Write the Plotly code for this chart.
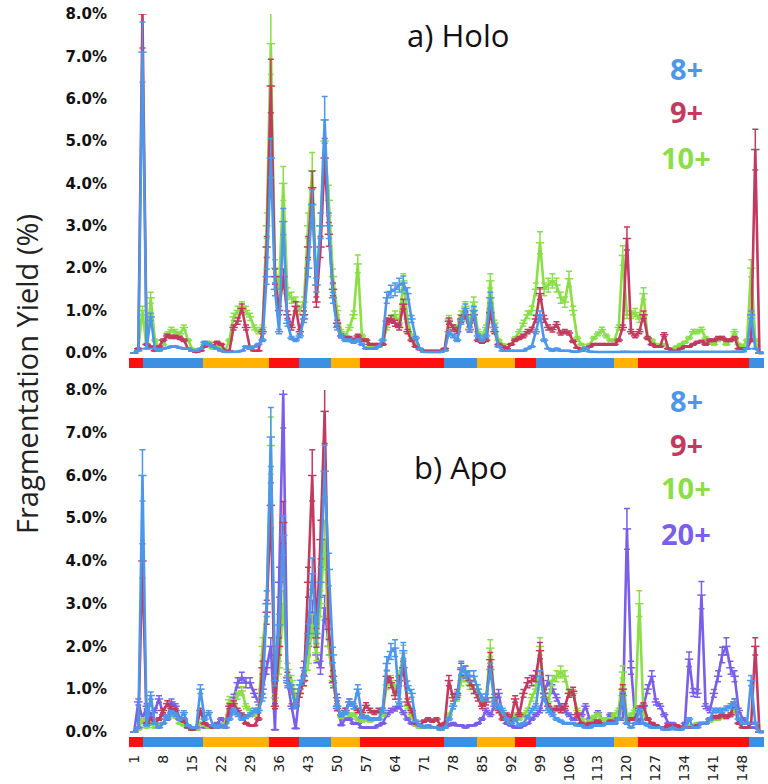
import plotly.graph_objects as go

residues = list(range(1, 154))
tick_residues = list(range(1, 149, 7))
y_ticks = [0, 1, 2, 3, 4, 5, 6, 7, 8]
y_tick_text = ["0.0%", "1.0%", "2.0%", "3.0%", "4.0%", "5.0%", "6.0%", "7.0%", "8.0%"]

# secondary-structure segments (residue boundaries) and colours
ss_bounds = [-0.25, 3.1, 17.7, 33.6, 40.7, 48.6, 55.6, 75.7, 83.8, 92.9, 98.0, 116.9, 122.6, 149.4, 153.1]
ss_kinds = ["r", "b", "o", "r", "b", "o", "r", "b", "o", "r", "b", "o", "r", "b"]

holo_8 = [0.0, 0.05, 7.1, 0.1, 0.85, 0.1, 0.05, 0.1, 0.12, 0.15,
          0.15, 0.12, 0.1, 0.1, 0.05, 0.05, 0.1, 0.25, 0.2, 0.15,
          0.1, 0.05, 0.02, 0.02, 0.02, 0.03, 0.05, 0.15, 0.1, 0.15,
          0.2, 0.3, 1.8, 4.6, 1.5, 0.5, 3.1, 0.7, 0.35, 0.3,
          0.4, 0.8, 2.0, 3.5, 1.6, 3.0, 5.5, 3.0, 1.3, 0.6,
          0.4, 0.3, 0.3, 0.25, 0.3, 0.2, 0.1, 0.1, 0.1, 0.15,
          0.3, 1.3, 1.45, 1.5, 1.6, 1.65, 1.4, 0.8, 0.35, 0.1,
          0.02, 0.02, 0.02, 0.02, 0.02, 0.05, 0.5, 0.4, 0.3, 0.75,
          1.05, 0.55, 1.0, 0.4, 0.3, 0.4, 1.3, 0.6, 0.15, 0.05,
          0.05, 0.05, 0.05, 0.05, 0.05, 0.1, 0.15, 0.5, 0.9, 0.3,
          0.1, 0.05, 0.1, 0.05, 0.05, 0.05, 0.03, 0.03, 0.05, 0.12,
          0.03, 0.02, 0.02, 0.02, 0.02, 0.02, 0.02, 0.02, 0.03, 0.03,
          0.02, 0.02, 0.02, 0.02, 0.02, 0.02, 0.02, 0.02, 0.02, 0.02,
          0.02, 0.02, 0.02, 0.02, 0.02, 0.02, 0.02, 0.02, 0.02, 0.02,
          0.02, 0.02, 0.02, 0.02, 0.02, 0.03, 0.03, 0.03, 0.1, 0.9,
          0.1, 0.0, 0.0]

holo_9 = [0.0, 0.1, 8.0, 0.2, 0.15, 0.05, 0.15, 0.3, 0.4, 0.38,
          0.38, 0.35, 0.3, 0.1, 0.05, 0.02, 0.05, 0.15, 0.2, 0.15,
          0.25, 0.2, 0.05, 0.05, 0.6, 0.75, 1.05, 0.6, 0.1, 0.05,
          0.05, 0.5, 2.5, 6.3, 1.8, 1.0, 1.8, 0.9, 0.6, 1.1,
          0.5, 0.9, 2.5, 3.9, 1.2, 2.5, 4.6, 2.8, 1.5, 0.7,
          0.4, 0.35, 0.35, 0.3, 0.4, 0.3, 0.3, 0.2, 0.2, 0.2,
          0.2, 0.75, 0.8, 0.7, 0.6, 1.15, 0.5, 0.3, 0.15, 0.08,
          0.05, 0.05, 0.05, 0.05, 0.05, 0.1, 0.75, 0.6, 0.5, 0.8,
          0.9, 0.55, 0.9, 0.3, 0.25, 0.3, 0.95, 0.5, 0.2, 0.15,
          0.1, 0.2, 0.3, 0.35, 0.4, 0.5, 0.55, 0.8, 1.4, 0.8,
          0.6, 0.55, 0.67, 0.47, 0.5, 0.47, 0.27, 0.12, 0.05, 0.1,
          0.15, 0.2, 0.2, 0.2, 0.2, 0.2, 0.2, 0.3, 0.6, 2.7,
          0.5, 0.4, 0.5, 0.9, 0.35, 0.2, 0.15, 0.15, 0.43, 0.1,
          0.05, 0.05, 0.1, 0.15, 0.15, 0.2, 0.25, 0.27, 0.2, 0.3,
          0.3, 0.35, 0.35, 0.3, 0.3, 0.35, 0.1, 0.1, 0.1, 0.3,
          4.8, 0.0, 0.0]

holo_10 = [0.0, 0.1, 1.0, 0.1, 1.3, 0.3, 0.1, 0.2, 0.45, 0.55,
           0.5, 0.45, 0.6, 0.3, 0.1, 0.05, 0.05, 0.2, 0.25, 0.1,
           0.15, 0.1, 0.05, 0.3, 0.85, 1.0, 1.1, 1.0, 0.85, 0.6,
           0.5, 0.6, 3.0, 7.3, 2.0, 1.5, 4.0, 1.4, 1.3, 1.2,
           1.0, 1.2, 3.0, 4.3, 1.6, 3.0, 5.0, 3.6, 1.8, 1.0,
           0.5, 0.4, 0.6, 0.9, 2.1, 0.4, 0.3, 0.15, 0.1, 0.15,
           0.2, 0.6, 0.8, 0.9, 0.7, 1.7, 0.8, 0.4, 0.2, 0.1,
           0.03, 0.02, 0.02, 0.02, 0.02, 0.1, 0.8, 0.6, 0.6, 0.9,
           1.1, 0.7, 1.2, 0.5, 0.4, 0.6, 1.7, 0.7, 0.3, 0.2,
           0.1, 0.2, 0.35, 0.5, 0.7, 0.9, 1.0, 1.5, 2.6, 1.5,
           1.6, 1.7, 1.6, 1.3, 1.2, 1.75, 1.0, 0.35, 0.2, 0.1,
           0.2, 0.35, 0.45, 0.55, 0.4, 0.3, 0.3, 0.6, 2.3, 0.9,
           0.9, 0.95, 0.8, 1.4, 0.35, 0.3, 0.2, 0.15, 0.2, 0.1,
           0.1, 0.15, 0.2, 0.25, 0.35, 0.5, 0.5, 0.55, 0.35, 0.25,
           0.2, 0.3, 0.35, 0.2, 0.3, 0.5, 0.2, 0.15, 0.3, 2.0,
           0.3, 0.0, 0.0]

apo_8 = [0.0, 0.1, 6.0, 0.15, 0.85, 0.2, 0.1, 0.2, 0.35, 0.45,
         0.4, 0.3, 0.45, 0.15, 0.1, 0.1, 1.0, 0.3, 0.45, 0.15,
         0.1, 0.15, 0.1, 0.3, 0.5, 0.4, 0.3, 0.35, 0.4, 0.5,
         0.5, 0.8, 3.0, 6.9, 1.2, 2.5, 4.6, 1.15, 1.0, 0.6,
         1.1, 1.3, 2.3, 3.7, 2.3, 3.5, 6.1, 3.8, 1.8, 0.6,
         0.4, 0.45, 0.7, 0.6, 1.0, 0.35, 0.35, 0.3, 0.3, 0.3,
         0.5, 1.6, 1.88, 1.96, 0.7, 1.9, 1.08, 0.9, 0.25, 0.15,
         0.1, 0.15, 0.1, 0.1, 0.05, 0.1, 0.3, 0.6, 0.85, 1.5,
         1.4, 1.3, 1.3, 1.0, 0.8, 0.8, 1.46, 0.7, 0.6, 0.5,
         0.3, 0.2, 0.3, 0.15, 0.2, 0.35, 0.5, 0.6, 1.3, 0.8,
         0.5, 0.4, 0.3, 0.25, 0.2, 0.2, 0.2, 0.15, 0.15, 0.1,
         0.1, 0.15, 0.15, 0.15, 0.2, 0.2, 0.2, 0.3, 0.85, 0.2,
         0.1, 0.2, 0.5, 0.2, 0.15, 0.1, 0.1, 0.1, 0.05, 0.05,
         0.1, 0.05, 0.05, 0.1, 0.3, 0.1, 0.1, 0.2, 0.2, 0.3,
         0.5, 0.5, 0.5, 0.55, 0.6, 0.7, 0.3, 0.2, 0.2, 1.2,
         0.2, 0.0, 0.0]

apo_9 = [0.0, 0.1, 4.0, 0.2, 0.3, 0.2, 0.3, 0.5, 0.66, 0.55,
         0.5, 0.3, 0.25, 0.1, 0.05, 0.1, 0.5, 0.2, 0.15, 0.1,
         0.1, 0.15, 0.1, 0.6, 0.66, 0.5, 0.4, 0.2, 0.15, 0.15,
         0.3, 1.5, 2.8, 5.3, 0.6, 2.0, 4.9, 1.27, 1.0, 0.62,
         0.9, 1.2, 3.5, 6.0, 2.2, 4.5, 7.5, 2.4, 1.3, 0.55,
         0.4, 0.5, 0.7, 0.6, 0.5, 0.45, 0.62, 0.5, 0.45, 0.5,
         0.5, 1.3, 1.15, 0.85, 1.2, 1.5, 0.7, 0.5, 0.2, 0.15,
         0.25, 0.3, 0.25, 0.3, 0.15, 0.2, 1.2, 0.8, 0.9, 1.46,
         1.4, 1.2, 1.0, 0.8, 0.6, 0.7, 1.69, 0.8, 0.5, 0.3,
         0.4, 0.3, 0.77, 0.4, 0.9, 1.15, 1.2, 1.3, 1.9, 0.9,
         0.6, 0.5, 0.55, 0.5, 0.6, 0.9, 0.95, 0.4, 0.2, 0.15,
         0.2, 0.2, 0.25, 0.2, 0.2, 0.25, 0.2, 0.3, 1.0, 0.2,
         0.3, 0.3, 0.55, 0.62, 0.3, 0.2, 0.15, 0.1, 0.1, 0.15,
         0.1, 0.15, 0.1, 0.1, 0.1, 0.1, 0.15, 0.2, 0.2, 0.3,
         0.35, 0.35, 0.4, 0.35, 0.4, 0.7, 0.2, 0.1, 0.1, 0.2,
         2.0, 0.0, 0.0]

apo_10 = [0.0, 0.05, 0.3, 0.1, 0.2, 0.1, 0.15, 0.2, 0.35, 0.4,
          0.35, 0.2, 0.15, 0.1, 0.05, 0.05, 0.2, 0.15, 0.1, 0.1,
          0.1, 0.15, 0.2, 0.75, 0.6, 0.85, 0.96, 0.6, 0.5, 0.4,
          0.5, 2.0, 3.0, 6.7, 0.8, 1.5, 3.0, 1.46, 1.2, 0.8,
          1.0, 1.2, 1.6, 2.5, 1.85, 3.0, 4.5, 2.0, 1.2, 0.6,
          0.35, 0.5, 0.4, 0.4, 0.3, 0.25, 0.3, 0.25, 0.3, 0.3,
          0.4, 1.1, 1.2, 1.0, 1.3, 1.84, 0.6, 0.4, 0.15, 0.1,
          0.1, 0.1, 0.1, 0.1, 0.05, 0.1, 0.4, 0.6, 0.8, 1.2,
          1.3, 1.1, 1.0, 0.9, 0.7, 0.8, 1.96, 0.8, 0.6, 0.4,
          0.3, 0.2, 0.4, 0.3, 0.4, 0.5, 0.8, 1.0, 2.0, 0.9,
          0.7, 1.2, 1.3, 1.4, 1.3, 0.9, 0.9, 0.5, 0.3, 0.2,
          0.25, 0.35, 0.4, 0.3, 0.3, 0.3, 0.4, 0.5, 1.4, 0.3,
          0.4, 0.5, 3.0, 0.4, 0.3, 0.2, 0.15, 0.1, 0.1, 0.1,
          0.1, 0.1, 0.1, 0.1, 0.15, 0.15, 0.2, 0.2, 0.2, 0.25,
          0.3, 0.3, 0.35, 0.35, 0.4, 0.5, 0.2, 0.1, 0.1, 0.2,
          0.2, 0.0, 0.0]

apo_20 = [0.0, 0.7, 0.3, 0.6, 0.4, 0.5, 0.77, 0.4, 0.3, 0.7,
          0.6, 0.3, 0.3, 0.1, 0.05, 0.05, 0.2, 0.1, 0.1, 0.15,
          0.2, 0.3, 0.2, 0.4, 0.8, 1.15, 1.27, 1.15, 1.15, 0.9,
          0.7, 1.0, 1.5, 2.0, 0.05, 3.5, 7.9, 1.2, 0.6, 0.08,
          1.0, 1.5, 2.0, 2.8, 1.8, 1.5, 2.9, 2.0, 1.15, 0.8,
          0.16, 0.3, 0.3, 0.2, 0.2, 0.1, 0.1, 0.1, 0.1, 0.15,
          0.2, 0.4, 0.5, 0.54, 0.6, 0.45, 0.3, 0.2, 0.15, 0.1,
          0.1, 0.1, 0.1, 0.1, 0.1, 0.1, 0.15, 0.2, 0.15, 0.15,
          0.1, 0.15, 0.15, 0.2, 0.3, 0.5, 0.4, 0.6, 0.9, 0.4,
          0.2, 0.15, 0.1, 0.1, 0.15, 0.2, 0.3, 0.4, 0.5, 0.9,
          1.2, 1.0, 0.8, 0.6, 0.5, 0.4, 0.3, 0.3, 0.4, 0.6,
          0.3, 0.25, 0.45, 0.3, 0.3, 0.4, 0.3, 0.3, 0.3, 4.75,
          1.5, 0.3, 0.2, 0.6, 1.0, 1.3, 0.7, 0.6, 0.4, 0.2,
          0.2, 0.1, 0.1, 0.2, 1.7, 0.92, 0.9, 3.2, 0.6, 0.5,
          0.9, 1.3, 1.8, 2.0, 1.5, 1.3, 0.5, 0.3, 0.2, 0.1,
          0.1, 0.0, 0.0]

for s in (holo_8, holo_9, holo_10, apo_8, apo_9, apo_10, apo_20):
    assert len(s) == len(residues), len(s)

C_BLUE = "#4d97ea"
C_RED = "#c23a5f"
C_GREEN = "#8ade48"
C_PURPLE = "#7a5fe8"
SS_COL = {"r": "#ff1010", "b": "#3d8fe2", "o": "#ffb300"}

W, H = 768, 784
def py(px):  # pixel row -> paper fraction
    return 1 - px / H

fig = go.Figure()

def add_series(vals, color, xa, ya, name):
    fig.add_trace(go.Scatter(
        x=residues, y=vals, mode="lines+markers", name=name,
        line=dict(color=color, width=2.6),
        marker=dict(symbol="line-ew", size=6, color=color, line=dict(width=1.5, color=color)),
        error_y=dict(type="percent", value=10, color=color, thickness=1.5, width=3),
        xaxis=xa, yaxis=ya, showlegend=False, cliponaxis=True))

add_series(holo_10, C_GREEN, "x", "y", "10+")
add_series(holo_9, C_RED, "x", "y", "9+")
add_series(holo_8, C_BLUE, "x", "y", "8+")

add_series(apo_20, C_PURPLE, "x3", "y3", "20+")
add_series(apo_10, C_GREEN, "x3", "y3", "10+")
add_series(apo_9, C_RED, "x3", "y3", "9+")
add_series(apo_8, C_BLUE, "x3", "y3", "8+")

# secondary-structure strips
starts = ss_bounds[:-1]
lengths = [b - a for a, b in zip(ss_bounds[:-1], ss_bounds[1:])]
cols = [SS_COL[k] for k in ss_kinds]
for xa, ya in (("x2", "y2"), ("x4", "y4")):
    fig.add_trace(go.Bar(
        y=["ss"] * len(starts), x=lengths, base=starts, orientation="h",
        marker=dict(color=cols, line=dict(width=0)), width=1,
        xaxis=xa, yaxis=ya, showlegend=False, hoverinfo="skip"))

xdom = [129 / W, 764 / W]
xrange_ = [-0.25, 153.1]
common_x = dict(range=xrange_, autorange=False, domain=xdom, showgrid=False, zeroline=False,
                showline=False, ticks="", automargin=False)
ytick_font = dict(family="DejaVu Sans", size=15, color="#111111", weight="bold")
common_y = dict(range=[-0.05, 8.0], autorange=False, tickmode="array", tickvals=y_ticks,
                ticktext=y_tick_text, showgrid=False, zeroline=False, showline=False,
                ticks="", tickfont=ytick_font, ticklabelstandoff=21, automargin=False)
strip_y = dict(showticklabels=False, showgrid=False, zeroline=False, fixedrange=True,
               automargin=False)

fig.update_layout(
    width=W, height=H, margin=dict(l=0, r=0, t=0, b=0, autoexpand=False),
    paper_bgcolor="white", plot_bgcolor="white", bargap=0,
    font=dict(family="DejaVu Sans"),
    xaxis=dict(**common_x, anchor="y", showticklabels=False),
    yaxis=dict(**common_y, domain=[py(355), py(14)], anchor="x"),
    xaxis2=dict(**common_x, anchor="y2", showticklabels=False),
    yaxis2=dict(**strip_y, domain=[py(368), py(358)], anchor="x2"),
    xaxis3=dict(**common_x, anchor="y3", showticklabels=False),
    yaxis3=dict(**common_y, domain=[py(734), py(390)], anchor="x3"),
    xaxis4=dict(**common_x, anchor="y4", tickmode="array", tickvals=tick_residues,
                tickangle=-90, tickfont=dict(family="DejaVu Sans", size=14, color="#222222"),
                ticklabelstandoff=4),
    yaxis4=dict(**strip_y, domain=[py(747), py(737)], anchor="x4"),
)

ann = []
title_font = dict(family="Open Sans", size=31, color="#111111")
ann.append(dict(text="a) Holo", x=458 / W, y=py(35), xref="paper", yref="paper",
                showarrow=False, font=title_font, xanchor="center", yanchor="middle"))
ann.append(dict(text="b) Apo", x=460 / W, y=py(467), xref="paper", yref="paper",
                showarrow=False, font=title_font, xanchor="center", yanchor="middle"))
ann.append(dict(text="Fragmentation Yield (%)", x=26 / W, y=py(374), xref="paper", yref="paper",
                showarrow=False, textangle=-90, xanchor="center", yanchor="middle",
                font=dict(family="Open Sans", size=29, color="#222222")))

leg_top = [("8+", C_BLUE, 69), ("9+", C_RED, 112), ("10+", C_GREEN, 157)]
leg_bot = [("8+", C_BLUE, 400), ("9+", C_RED, 445), ("10+", C_GREEN, 487), ("20+", C_PURPLE, 533)]
for txt, col, ypx in leg_top + leg_bot:
    ann.append(dict(text="<b>%s</b>" % txt, x=686 / W, y=py(ypx), xref="paper", yref="paper",
                    showarrow=False, xanchor="center", yanchor="middle",
                    font=dict(family="Open Sans", size=29, color=col)))
fig.update_layout(annotations=ann)

fig.write_html("out.html", config={"displayModeBar": False},
               post_script="document.body.style.margin='0';")
